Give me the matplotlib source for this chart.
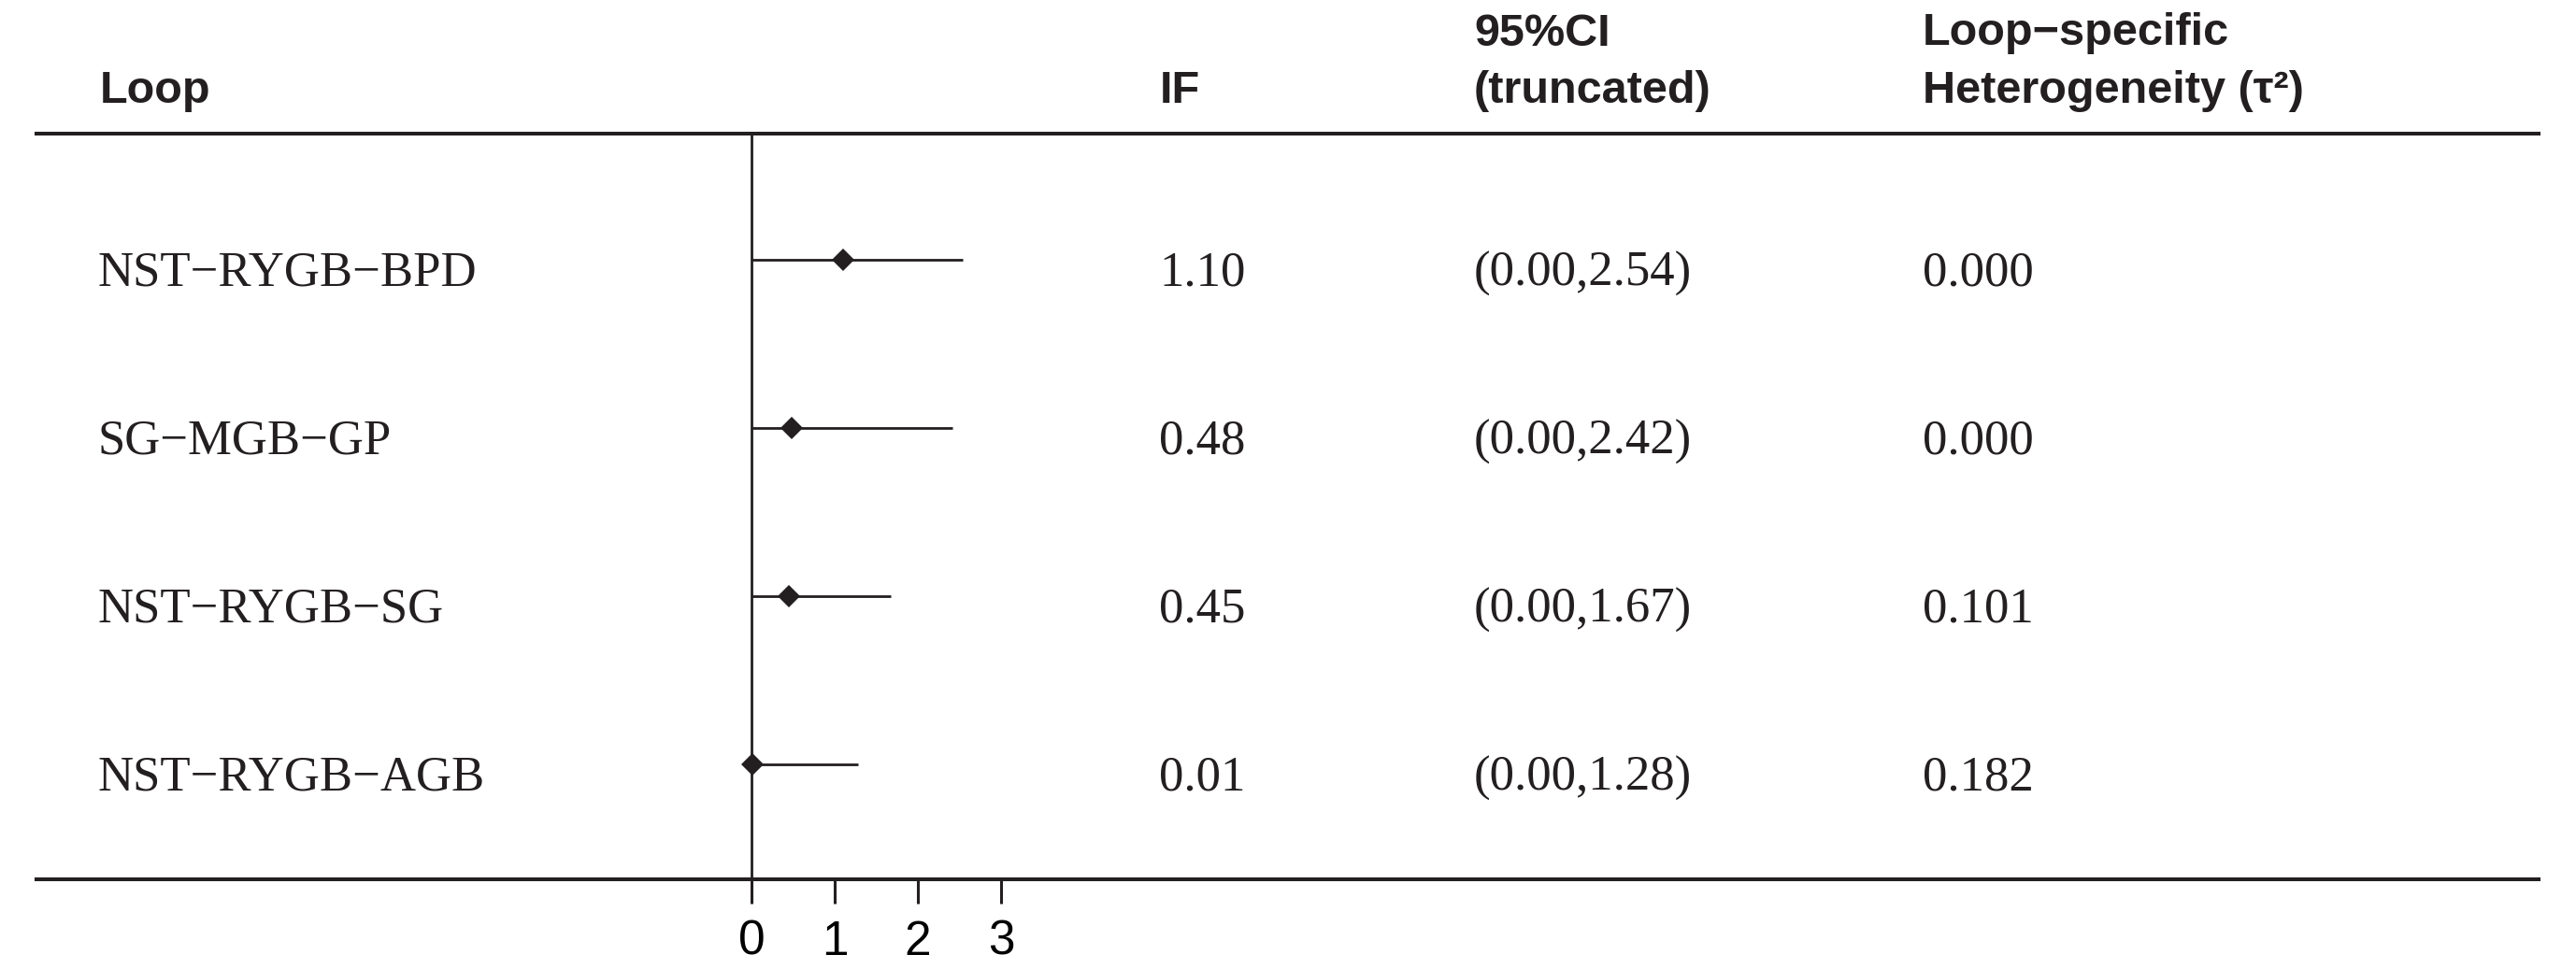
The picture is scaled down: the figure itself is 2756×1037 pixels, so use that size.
import numpy as np
import matplotlib.pyplot as plt
import matplotlib.transforms as mtransforms

loops = ['NST\u2212RYGB\u2212BPD', 'SG\u2212MGB\u2212GP', 'NST\u2212RYGB\u2212SG', 'NST\u2212RYGB\u2212AGB']
if_vals = [1.10, 0.48, 0.45, 0.01]
ci_low = [0.00, 0.00, 0.00, 0.00]
ci_high = [2.54, 2.42, 1.67, 1.28]
tau2 = [0.000, 0.000, 0.101, 0.182]
xticks = [0, 1, 2, 3]

W, H = 2756, 1037
dpi = 200
fig = plt.figure(figsize=(W / dpi, H / dpi), dpi=dpi)

head_font = ['Liberation Sans Narrow', 'Liberation Sans', 'DejaVu Sans']
serif_font = ['Liberation Serif', 'DejaVu Serif']

# axes spans the two horizontal rules; 0 sits at x=804px, 89px per unit
left, right, top, bottom = 39, 2716, 143, 941
ax = fig.add_axes([left / W, 1 - bottom / H, (right - left) / W, (bottom - top) / H])
ax.set_xlim((left - 804) / 89, (right - 804) / 89)
ax.set_ylim((bottom - 278) / 180, (top - 278) / 180)

for s in ['left', 'right']:
    ax.spines[s].set_visible(False)
for s in ['top', 'bottom']:
    ax.spines[s].set_linewidth(1.45)
    ax.spines[s].set_color('#231f20')

ax.axvline(0, color='#231f20', lw=1.0)
y = np.arange(len(loops))
ax.hlines(y, ci_low, ci_high, color='#231f20', lw=1.0)
ax.plot(if_vals, y, 'D', color='#231f20', ms=6.3, mew=0)

ax.set_yticks([])
ax.set_xticks(xticks)
ax.set_xticklabels([str(t) for t in xticks], family=head_font, fontsize=18.5)
ax.tick_params(axis='x', direction='out', length=9.4, width=1.1, color='#231f20', pad=6)

# columns: x in figure fraction, y in row units
trans = mtransforms.blended_transform_factory(fig.transFigure, ax.transData)
col_x = [105 / W, 1240 / W, 1577 / W, 2057 / W]
for i in range(len(loops)):
    vals = [loops[i], f'{if_vals[i]:.2f}', f'({ci_low[i]:.2f},{ci_high[i]:.2f})', f'{tau2[i]:.3f}']
    for cx, v in zip(col_x, vals):
        ax.text(cx, i + 0.155, v, transform=trans, family=serif_font, fontsize=19,
                color='#231f20', va='baseline', ha='left')

# headers
hdr = dict(family=head_font, fontsize=17.5, fontweight='bold', color='#231f20', va='baseline', ha='left')
fig.text(107 / W, 1 - 110 / H, 'Loop', **hdr)
fig.text(1241 / W, 1 - 110 / H, 'IF', **hdr)
fig.text(1577 / W, 1 - 49 / H, '95%CI', **hdr)
fig.text(1577 / W, 1 - 110 / H, '(truncated)', **hdr)
fig.text(2057 / W, 1 - 48 / H, 'Loop\u2212specific', **hdr)
fig.text(2057 / W, 1 - 110 / H, 'Heterogeneity (\u03c4\u00b2)', **hdr)

fig.savefig('out.png', dpi=dpi)
